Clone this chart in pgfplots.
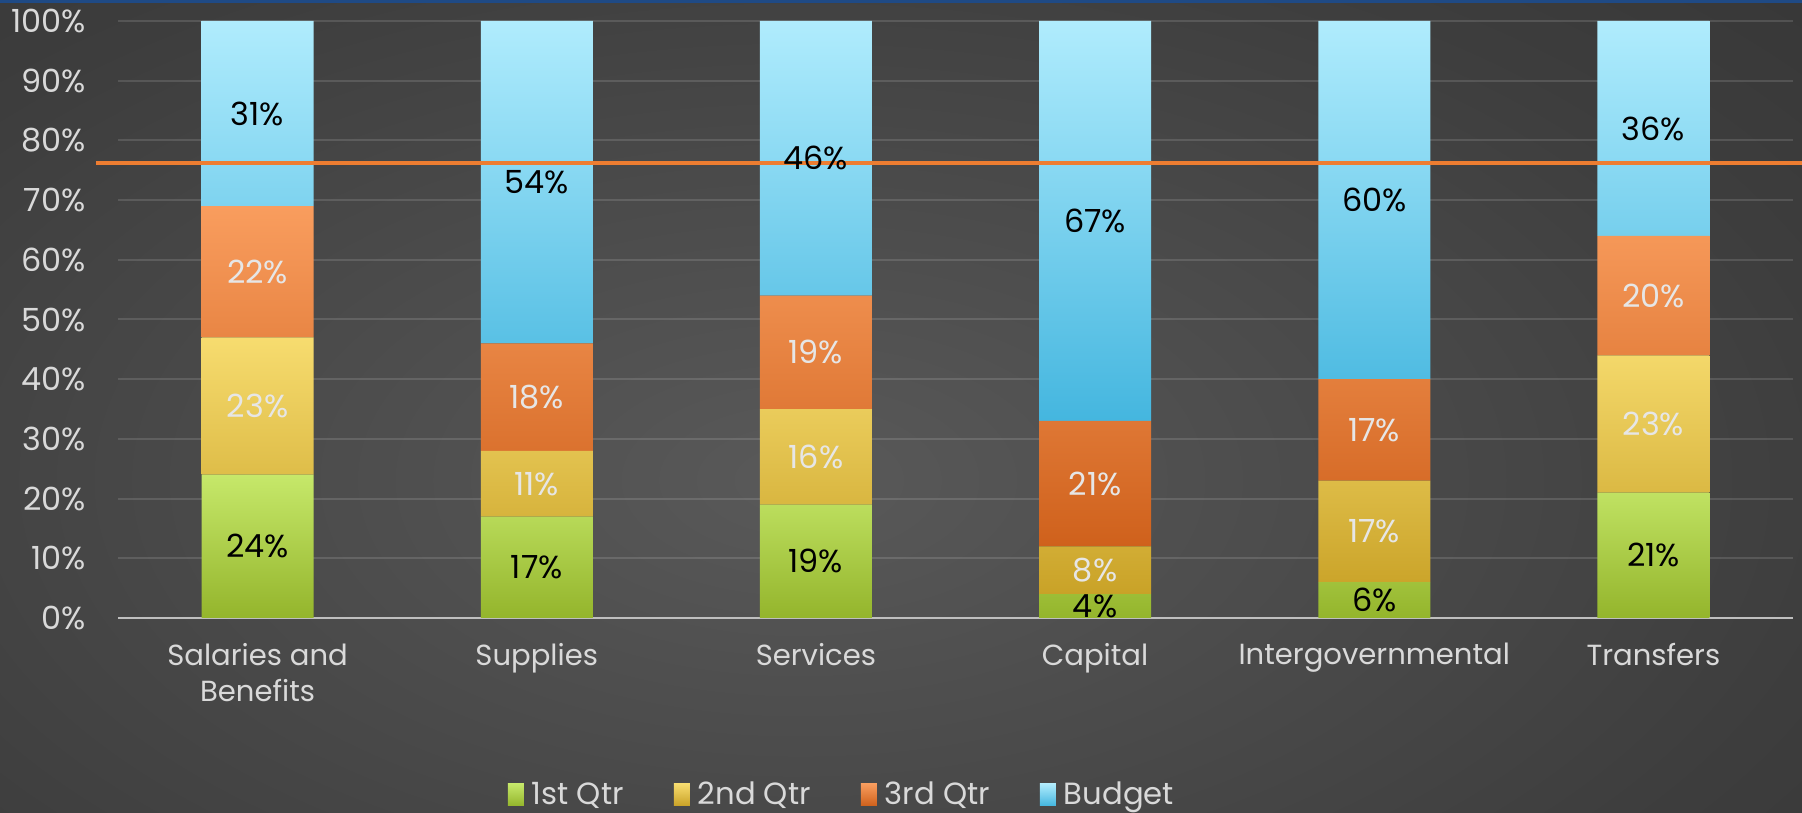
\documentclass[border=0pt]{standalone}
\usepackage{fontspec}
\setmainfont{Poppins}
\usepackage{pgfplots}
\usepackage{pgfplotstable}
\pgfplotsset{compat=1.18}
\definecolor{tickgray}{HTML}{D9D9D9}
\definecolor{lblgray}{HTML}{E6E6E6}
\definecolor{axisgray}{HTML}{BFBFBF}
\definecolor{orangeline}{HTML}{ED7D31}
\definecolor{topblue}{HTML}{1F4A85}
\definecolor{gT}{HTML}{C6E86A}\definecolor{gB}{HTML}{94B52C}
\definecolor{yT}{HTML}{F7DC6F}\definecolor{yB}{HTML}{C9A227}
\definecolor{oT}{HTML}{F99D5E}\definecolor{oB}{HTML}{CF611C}
\definecolor{bT}{HTML}{B0ECFD}\definecolor{bB}{HTML}{44B6DF}
\pgfdeclareradialshading{bgshade}{\pgfpoint{0bp}{0bp}}{rgb(0bp)=(0.35,0.35,0.35); rgb(10bp)=(0.30,0.30,0.30); rgb(22bp)=(0.24,0.24,0.24); rgb(35bp)=(0.195,0.195,0.195); rgb(46bp)=(0.17,0.17,0.17); rgb(71bp)=(0.15,0.15,0.15)}
\pgfplotstableread{
x q1 q2 q3 b
0 24 23 22 31
1 17 11 18 54
2 19 16 19 46
3 4 8 21 67
4 6 17 17 60
5 21 23 20 36
}\data
\newcommand{\fnt}{\fontsize{16}{18}\selectfont}
\newcommand{\xfnt}{\fontsize{14.6}{18}\selectfont}
\newcommand{\lfnt}{\fontsize{15.4}{18}\selectfont}
\pgfplotsset{
  qbar/.style 2 args={top color=#1, bottom color=#2, draw=none,
    legend image code/.code={\path[top color=#1,bottom color=#2] (0bp,-5.5bp) rectangle (8bp,5.5bp);}},
  lbl/.style={only marks, mark=*, mark options={draw=none,fill=none}, mark size=0pt,
    point meta=explicit,
    nodes near coords={\pgfmathprintnumber{\pgfplotspointmeta}\%},
    every node near coord/.append style={text=#1, font=\fnt, anchor=center, inner sep=0pt}},
  common/.style={at={(59bp,97.5bp)}, anchor=south west, scale only axis,
    width=837.5bp, height=298.5bp, xmin=-0.5, xmax=5.5, ymin=0, ymax=100,
    /pgf/number format/assume math mode=true}
}
\begin{document}
\begin{tikzpicture}
\begin{scope}
\clip (0,0) rectangle (901bp,406.5bp);
\shade[shading=bgshade] (-200bp,-153.5bp) rectangle (1000bp,486.5bp);
\fill[topblue] (0,405bp) rectangle (901bp,406.5bp);
\end{scope}
\begin{axis}[common,
  ybar stacked, bar width=56bp,
  axis x line*=bottom, axis y line*=left,
  x axis line style={draw=axisgray, line width=1.2bp},
  y axis line style={draw=none},
  ymajorgrids, grid style={white, opacity=0.13, line width=1bp},
  ytick={0,10,...,100}, yticklabel={\pgfmathprintnumber{\tick}\%},
  major tick length=0pt, tick style={draw=none},
  xtick={0,...,5},
  xticklabels={{Salaries and\\Benefits},Supplies,Services,Capital,Intergovernmental,Transfers},
  tick label style={font=\fnt, text=tickgray},
  y tick label style={inner sep=0pt, xshift=-16bp},
  x tick label style={font=\xfnt, align=center, inner sep=0pt, yshift=-12.5bp},
  legend style={at={(0.4328,-0.296)}, anchor=center, legend columns=4, draw=none, fill=none,
    font=\lfnt, text=tickgray, inner sep=0pt,
    /tikz/every even column/.append style={column sep=23bp},
    /tikz/every odd column/.append style={column sep=2bp}},
]
\addplot[qbar={gT}{gB}] table[x=x,y=q1]{\data};
\addplot[qbar={yT}{yB}] table[x=x,y=q2]{\data};
\addplot[qbar={oT}{oB}] table[x=x,y=q3]{\data};
\addplot[qbar={bT}{bB}] table[x=x,y=b]{\data};
\legend{1st Qtr,2nd Qtr,3rd Qtr,Budget}
\end{axis}
\begin{axis}[common, hide axis, clip=false]
\addplot[color=orangeline, line width=2bp] coordinates {(-0.579,76.2) (5.532,76.2)};
\addplot[lbl=black] table[x=x, y expr=\thisrow{q1}/2, meta=q1]{\data};
\addplot[lbl=lblgray] table[x=x, y expr=\thisrow{q1}+\thisrow{q2}/2, meta=q2]{\data};
\addplot[lbl=lblgray] table[x=x, y expr=\thisrow{q1}+\thisrow{q2}+\thisrow{q3}/2, meta=q3]{\data};
\addplot[lbl=black] table[x=x, y expr=\thisrow{q1}+\thisrow{q2}+\thisrow{q3}+\thisrow{b}/2, meta=b]{\data};
\end{axis}
\pgfresetboundingbox
\useasboundingbox (0,0) rectangle (901bp,406.5bp);
\end{tikzpicture}
\end{document}
